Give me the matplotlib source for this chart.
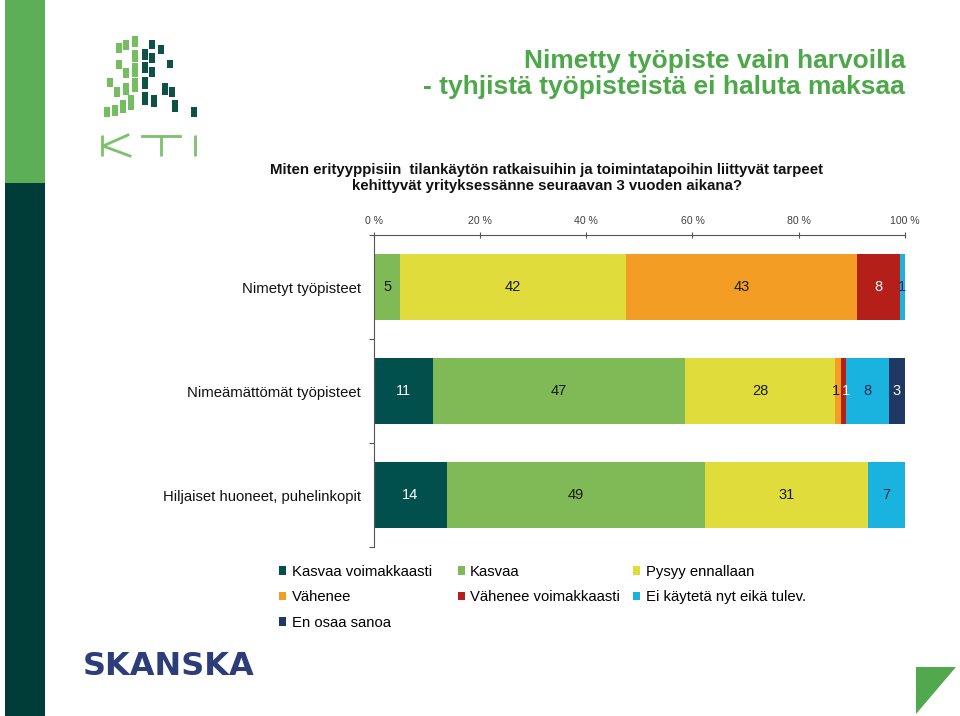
import matplotlib
matplotlib.use("Agg")
import matplotlib.pyplot as plt
import numpy as np
from matplotlib import font_manager
from matplotlib.patches import Rectangle, Polygon, Patch

# ---------------- data ----------------
categories = ["Nimetyt työpisteet", "Nimeämättömät työpisteet", "Hiljaiset huoneet, puhelinkopit"]
series_names = ["Kasvaa voimakkaasti", "Kasvaa", "Pysyy ennallaan", "Vähenee",
                "Vähenee voimakkaasti", "Ei käytetä nyt eikä tulev.", "En osaa sanoa"]
kasvaa_voimakkaasti = [0, 11, 14]
kasvaa = [5, 47, 49]
pysyy_ennallaan = [42, 28, 31]
vahenee = [43, 1, 0]
vahenee_voimakkaasti = [8, 1, 0]
ei_kayteta = [1, 8, 7]
en_osaa_sanoa = [0, 3, 0]
x_ticks = [0, 20, 40, 60, 80, 100]
x_ticklabels = ["0 %", "20 %", "40 %", "60 %", "80 %", "100 %"]

series_colors = ["#02504E", "#7FBA57", "#E0DC3C", "#F39D25", "#B41F1A", "#1AB3DF", "#1F3864"]
label_colors = ["white", "#1a1a1a", "#1a1a1a", "#1a1a1a", "white", "#1a2a4a", "white"]

title1 = "Nimetty työpiste vain harvoilla"
title2 = "- tyhjistä työpisteistä ei haluta maksaa"
question1 = "Miten erityyppisiin  tilankäytön ratkaisuihin ja toimintatapoihin liittyvät tarpeet"
question2 = "kehittyvät yrityksessänne seuraavan 3 vuoden aikana?"

# ---------------- fonts ----------------
names = {f.name for f in font_manager.fontManager.ttflist}
base = "Liberation Sans" if "Liberation Sans" in names else "DejaVu Sans"
narrow = "Liberation Sans Narrow" if "Liberation Sans Narrow" in names else None
plt.rcParams["font.family"] = [base, "DejaVu Sans"]

W, H = 960, 716
fig = plt.figure(figsize=(W / 100, H / 100), dpi=100)
fig.patch.set_facecolor("white")

# ---------------- decorations (pixel overlay) ----------------
deco = fig.add_axes([0, 0, 1, 1], zorder=-1)
deco.set_xlim(0, W)
deco.set_ylim(H, 0)
deco.axis("off")

deco.add_patch(Rectangle((4.5, 0), 40, 183, color="#5DAF57", lw=0))
deco.add_patch(Rectangle((4.5, 183), 40, 533, color="#003D38", lw=0))

light = "#74BE5F"
dark = "#0E5247"
light_sq = [(116, 43, 53), (123, 40, 50), (132, 36, 47), (116, 60, 69), (132, 50, 62),
            (123, 68, 78), (132, 63, 77), (107, 78, 87), (114, 87, 97), (123, 83, 95),
            (132, 78, 92), (104, 107, 117), (112, 105, 116), (120, 100, 113), (128, 95, 110)]
dark_sq = [(149, 40, 49), (158, 45, 54), (142, 49, 60), (149, 53, 63), (167, 60, 68),
           (142, 62, 73), (149, 67, 77), (142, 77, 89), (162, 83, 95), (169, 87, 97),
           (142, 92, 105), (151, 95, 107), (172, 100, 112), (191, 107, 117)]
for x0, y0, y1 in light_sq:
    deco.add_patch(Rectangle((x0, y0), 5.5, y1 - y0, color=light, lw=0))
for x0, y0, y1 in dark_sq:
    deco.add_patch(Rectangle((x0, y0), 6, y1 - y0, color=dark, lw=0))
kti_c = "#7BC26A"
lw_k = 2.0
deco.plot([102, 102], [135, 156], color=kti_c, lw=lw_k, solid_capstyle="butt")
deco.plot([103, 128], [146, 135], color=kti_c, lw=lw_k)
deco.plot([103, 130], [146, 156], color=kti_c, lw=lw_k)
deco.plot([142, 180], [136, 136], color=kti_c, lw=lw_k)
deco.plot([161, 161], [136, 156], color=kti_c, lw=lw_k, solid_capstyle="butt")
deco.plot([195, 195], [135, 156], color=kti_c, lw=lw_k, solid_capstyle="butt")

deco.add_patch(Polygon([(916, 667), (956, 667), (916, 714)], closed=True, color="#52A84C", lw=0))
deco.text(83, 675, "SKANSKA", fontsize=23, fontweight="bold", color="#2C3D7A",
          family="DejaVu Sans", va="baseline", ha="left")

# ---------------- titles ----------------
fig.text(905 / W, 1 - 68 / H, title1, ha="right", va="baseline", fontsize=19,
         fontweight="bold", color="#4DA84A")
fig.text(905 / W, 1 - 94 / H, title2, ha="right", va="baseline", fontsize=19,
         fontweight="bold", color="#4DA84A")
fig.text(547 / W, 1 - 174 / H, question1, ha="center", va="baseline", fontsize=10.8,
         fontweight="bold", color="#111111")
fig.text(547 / W, 1 - 190 / H, question2, ha="center", va="baseline", fontsize=10.8,
         fontweight="bold", color="#111111")

# ---------------- chart ----------------
left, right, top, bottom = 373.6, 905, 235, 547
ax = fig.add_axes([left / W, 1 - bottom / H, (right - left) / W, (bottom - top) / H])
ax.set_facecolor("none")

data = np.array([kasvaa_voimakkaasti, kasvaa, pysyy_ennallaan, vahenee,
                 vahenee_voimakkaasti, ei_kayteta, en_osaa_sanoa], dtype=float)
totals = data.sum(axis=0)
pct = data / totals * 100
y = np.arange(len(categories))
cum = np.zeros(len(categories))
for i, name in enumerate(series_names):
    bars = ax.barh(y, pct[i], left=cum, height=0.63, color=series_colors[i], label=name, lw=0)
    labels = [f"{int(v)}" if v > 0 else "" for v in data[i]]
    anns = ax.bar_label(bars, labels=labels, label_type="center", fontsize=10.5,
                        color=label_colors[i])
    # small neighbouring segments: push their labels slightly apart
    for j, a in enumerate(anns):
        if 0 < pct[i][j] < 2:
            shift = -1.6 if i == 3 else (1.6 if i == 4 else 0)
            a.xyann = (shift, 0)
    cum += pct[i]

ax.set_xlim(0, 100)
ax.set_ylim(2.5, -0.5)
ax.xaxis.tick_top()
ax.set_xticks(x_ticks)
tick_font = {"family": narrow, "size": 8} if narrow else {"size": 7.6}
ax.set_xticklabels(x_ticklabels, color="#404040", **tick_font)
ax.tick_params(axis="x", direction="inout", length=5, width=0.8, color="#555555", pad=4)
ax.set_yticks(y)
ax.set_yticklabels(categories, fontsize=10.7, color="#111111")
ax.tick_params(axis="y", which="major", length=0, pad=9)
ax.set_yticks([-0.5, 0.5, 1.5, 2.5], minor=True)
ax.tick_params(axis="y", which="minor", length=3.5, width=0.8, color="#555555", direction="out")
for s in ["right", "bottom"]:
    ax.spines[s].set_visible(False)
for s in ["top", "left"]:
    ax.spines[s].set_color("#555555")
    ax.spines[s].set_linewidth(0.8)

# ---------------- legend (three columns) ----------------
handles = [Patch(color=c, lw=0) for c in series_colors]
columns = [[0, 3, 6], [1, 4], [2, 5]]
col_x = [279, 457.5, 633]
for cx, idx in zip(col_x, columns):
    fig.legend([handles[k] for k in idx], [series_names[k] for k in idx],
               loc="upper left", bbox_to_anchor=(cx / W, 1 - 565 / H),
               frameon=False, fontsize=10.7, handlelength=0.5, handleheight=0.5,
               handletextpad=0.35, labelspacing=0.77, borderpad=0, borderaxespad=0)

fig.savefig("out.png", dpi=100)
